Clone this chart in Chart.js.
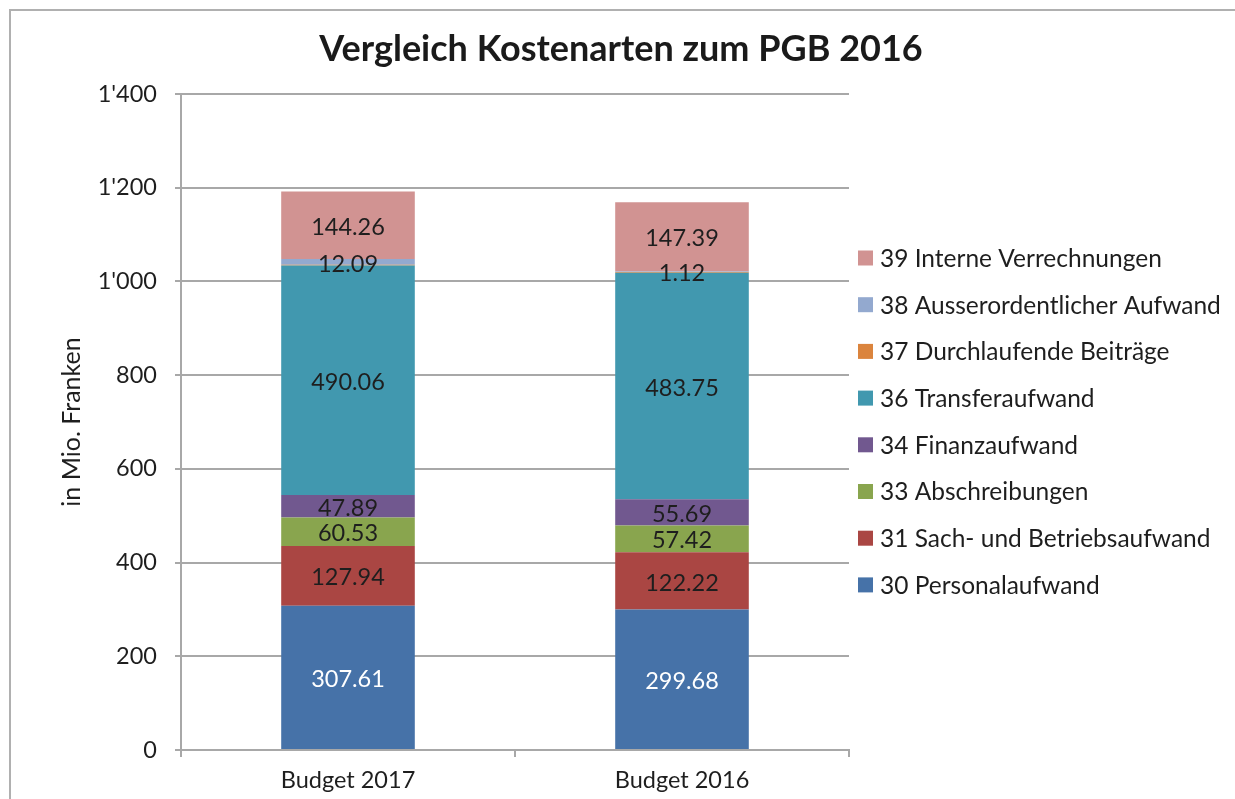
<!DOCTYPE html>
<html>
<head>
<meta charset="utf-8">
<script src="https://cdn.jsdelivr.net/npm/chart.js@4"></script>
<style>
  html, body { margin: 0; padding: 0; background: #fff; }
  #wrap { position: relative; width: 1235px; height: 799px; overflow: hidden; }
  #rahmen { position: absolute; left: 9px; top: 9px; width: 1400px; height: 1000px; border: 2px solid #b0b0b0; box-sizing: border-box; }
  canvas { position: absolute; left: 0; top: 0; }
</style>
</head>
<body>
<div id="wrap">
  <div id="rahmen"></div>
  <canvas id="grafik" width="1235" height="799"></canvas>
</div>
<script>
// Kategorien und Werte (Mio. Franken)
var kategorien = ['Budget 2017', 'Budget 2016']
var kostenarten = [
  '30 Personalaufwand',
  '31 Sach- und Betriebsaufwand',
  '33 Abschreibungen',
  '34 Finanzaufwand',
  '36 Transferaufwand',
  '37 Durchlaufende Beiträge',
  '38 Ausserordentlicher Aufwand',
  '39 Interne Verrechnungen'
]
var personal = [307.61, 299.68]
var sachBetrieb = [127.94, 122.22]
var abschreibungen = [60.53, 57.42]
var finanz = [47.89, 55.69]
var transfer = [490.06, 483.75]
var durchlaufend = [1.5, 1.5]   // geschätzt, ohne Beschriftung
var ausserordentlich = [12.09, 1.12]
var intern = [144.26, 147.39]
var yTicks = [0, 200, 400, 600, 800, 1000, 1200, 1400]

var farben = ['#4672A8', '#AA4643', '#89A54E', '#71588F', '#4198AF', '#DB843D', '#93A9CF', '#D19392']
var werte = [personal, sachBetrieb, abschreibungen, finanz, transfer, durchlaufend, ausserordentlich, intern]
var mitLabel = [true, true, true, true, true, false, true, true]

var schrift = 'Lato, "Open Sans", sans-serif'

var datasets = []
for (var i = 0; i < kostenarten.length; i++) {
  datasets.push({
    label: kostenarten[i],
    data: werte[i],
    backgroundColor: farben[i],
    borderWidth: 0,
    barPercentage: 0.4,
    categoryPercentage: 1.0
  })
}

// Beschriftung der Segmente
const wertLabels = {
  id: 'wertLabels',
  afterDatasetsDraw(chart) {
    const ctx = chart.ctx
    ctx.save()
    ctx.font = '23.5px ' + schrift
    ctx.textAlign = 'center'
    ctx.textBaseline = 'middle'
    chart.data.datasets.forEach((ds, i) => {
      if (!mitLabel[i]) return
      chart.getDatasetMeta(i).data.forEach((bar, j) => {
        ctx.fillStyle = i == 0 ? '#ffffff' : '#1e1e1e'
        ctx.fillText(ds.data[j].toFixed(2), bar.x, (bar.y + bar.base) / 2 + 2)
      })
    })
    ctx.restore()
  }
}

// Legende rechts, umgekehrte Reihenfolge
const legende = {
  id: 'legende',
  afterDraw(chart) {
    const ctx = chart.ctx
    ctx.save()
    ctx.font = '24.5px ' + schrift
    ctx.textBaseline = 'middle'
    const n = chart.data.datasets.length
    for (var k = 0; k < n; k++) {
      var ds = chart.data.datasets[n - 1 - k]
      var y = 258 + k * 46.7
      ctx.fillStyle = ds.backgroundColor
      ctx.fillRect(858, y - 7.5, 15, 15)
      ctx.fillStyle = '#1e1e1e'
      ctx.fillText(ds.label, 880, y + 1)
    }
    ctx.restore()
  }
}

const ctxGrafik = document.getElementById('grafik').getContext('2d')
const grafik = new Chart(ctxGrafik, {
  type: 'bar',
  data: {
    labels: kategorien,
    datasets: datasets
  },
  options: {
    responsive: false,
    animation: false,
    layout: { padding: { left: 7, right: 0, top: 0, bottom: 0 } },
    plugins: {
      legend: { display: false },
      tooltip: { enabled: false },
      title: {
        display: true,
        text: 'Vergleich Kostenarten zum PGB 2016',
        color: '#1a1a1a',
        font: { family: schrift, size: 36, weight: 'bold' },
        padding: { top: 28, bottom: 22.8 }
      }
    },
    scales: {
      x: {
        stacked: true,
        afterFit: (s) => { s.height = 49 },
        grid: { display: true, drawOnChartArea: false, drawTicks: true, tickLength: 7, color: '#a8a8a8', lineWidth: 2, offset: true },
        border: { display: true, color: '#a8a8a8', width: 2 },
        ticks: { color: '#1e1e1e', font: { family: schrift, size: 23.5 }, padding: 9 }
      },
      y: {
        stacked: true,
        min: 0,
        max: 1400,
        afterFit: (s) => { s.width = 174 },
        afterBuildTicks: (s) => { s.ticks = yTicks.map(v => ({ value: v })) },
        grid: { color: '#a8a8a8', lineWidth: 2, tickLength: 6 },
        border: { display: true, color: '#a8a8a8', width: 2 },
        ticks: {
          color: '#1e1e1e',
          font: { family: schrift, size: 23.5 },
          padding: 18,
          callback: (v) => v >= 1000 ? Math.floor(v / 1000) + "'" + String(v % 1000).padStart(3, '0') : String(v)
        },
        title: {
          display: true,
          text: 'in Mio. Franken',
          color: '#1e1e1e',
          font: { family: schrift, size: 25 },
          padding: { top: 50, bottom: 0 }
        }
      },
      // leerer Platz rechts fuer die Legende
      platzRechts: {
        type: 'linear',
        position: 'right',
        afterFit: (s) => { s.width = 386 },
        grid: { display: false },
        border: { display: false },
        ticks: { display: false }
      }
    }
  },
  plugins: [wertLabels, legende]
})
</script>
</body>
</html>
